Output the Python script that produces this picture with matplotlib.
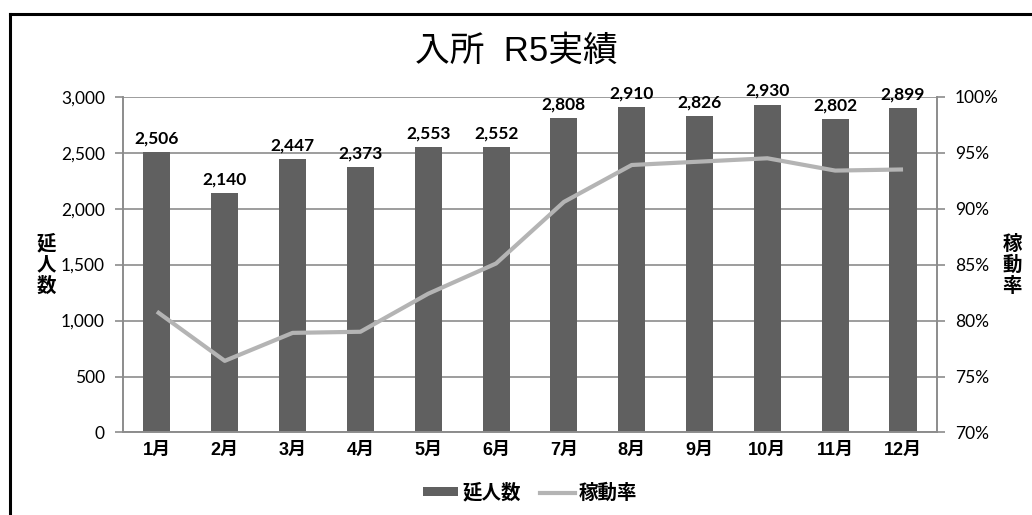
import matplotlib.pyplot as plt
from matplotlib.lines import Line2D
from matplotlib.patches import Patch
from matplotlib.ticker import FuncFormatter
import numpy as np

months = ['1月', '2月', '3月', '4月', '5月', '6月', '7月', '8月', '9月', '10月', '11月', '12月']
persons = [2506, 2140, 2447, 2373, 2553, 2552, 2808, 2910, 2826, 2930, 2802, 2899]
occupancy = [80.8, 76.4, 78.9, 79.0, 82.4, 85.1, 90.6, 93.9, 94.2, 94.5, 93.4, 93.5]

CJK = ['Liberation Sans', 'Noto Sans CJK JP']
NUM = ['Lato', 'Noto Sans CJK JP']
BAR_COLOR = '#606060'
LINE_COLOR = '#b4b4b4'
GRID_COLOR = '#8c8c8c'

fig = plt.figure(figsize=(10.32, 5.15), dpi=100)
ax = fig.add_axes([0.1192, 0.1602, 0.7887, 0.652])
ax2 = ax.twinx()

x = np.arange(len(months))
ax.bar(x, persons, width=0.4, color=BAR_COLOR, zorder=2)
for xi, v in zip(x, persons):
    ax.annotate(f'{v:,}', (xi, v), xytext=(0, 4), textcoords='offset points',
                ha='center', va='bottom', fontsize=12.5, fontweight='bold', family=NUM)

ax2.plot(x, occupancy, color=LINE_COLOR, lw=3, solid_capstyle='butt', zorder=3)

ax.set_xlim(-0.5, len(months) - 0.5)
ax.set_ylim(0, 3000)
ax.set_yticks(np.arange(0, 3001, 500))
ax.yaxis.set_major_formatter(FuncFormatter(lambda v, p: f'{int(v):,}'))
ax.grid(axis='y', color=GRID_COLOR, lw=1.2, zorder=0)
ax.set_axisbelow(True)
ax.set_xticks(x)
ax.set_xticklabels(months, family=CJK, fontweight='bold', fontsize=13)
ax.tick_params(axis='x', length=0, pad=7)
ax.tick_params(axis='y', length=6, width=1.2, color=GRID_COLOR, labelsize=12.5, pad=7)
for lab in ax.get_yticklabels():
    lab.set_family(NUM)

ax2.set_ylim(70, 100)
ax2.set_yticks(np.arange(70, 101, 5))
ax2.yaxis.set_major_formatter(FuncFormatter(lambda v, p: f'{int(v)}%'))
ax2.tick_params(axis='y', length=6, width=1.2, color=GRID_COLOR, labelsize=12.5, pad=7)
for lab in ax2.get_yticklabels():
    lab.set_family(NUM)

for a in (ax, ax2):
    a.spines['top'].set_visible(False)
    for s in ('left', 'right', 'bottom'):
        a.spines[s].set_color(GRID_COLOR)
        a.spines[s].set_linewidth(1.2)

fig.text(0.5, 0.9, '入所  R5実績', ha='center', va='center', fontsize=25, family=CJK)

# stacked vertical axis titles, one glyph per row
def vertical_label(xpos, ycenter, label):
    step = 0.041
    top = ycenter + step * (len(label) - 1) / 2
    for i, ch in enumerate(label):
        fig.text(xpos, top - i * step, ch, ha='center', va='center', fontsize=14,
                 fontweight='bold', family=['Noto Sans CJK JP'])

vertical_label(0.045, 0.485, '延人数')
vertical_label(0.981, 0.485, '稼動率')

handles = [Patch(facecolor=BAR_COLOR), Line2D([], [], color=LINE_COLOR, lw=3)]
leg = fig.legend(handles, ['延人数', '稼動率'], loc='center', bbox_to_anchor=(0.514, 0.043),
                 ncol=2, frameon=False, handlelength=1.8, handleheight=0.35,
                 handletextpad=0.2, columnspacing=1.0,
                 prop={'family': CJK, 'weight': 'bold', 'size': 14})

# outer frame: left and top edges only
fig.add_artist(Line2D([0.0097, 0.0097], [0, 0.973], color='black', lw=2.2))
fig.add_artist(Line2D([0.0097, 1.0], [0.973, 0.973], color='black', lw=2.2))

fig.savefig('out.png', dpi=100)
